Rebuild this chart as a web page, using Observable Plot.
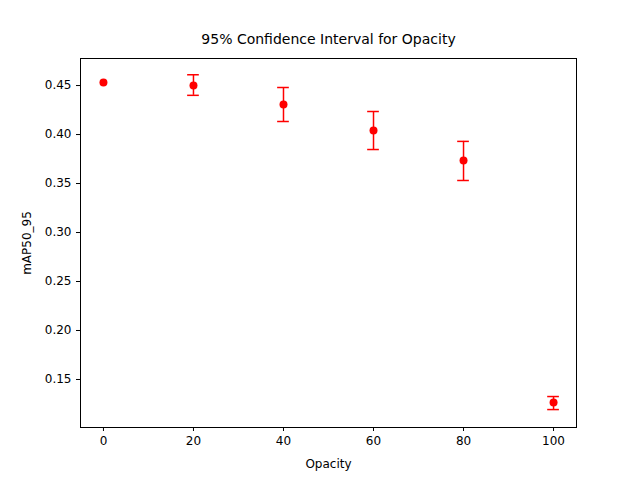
<!DOCTYPE html>
<html><head><meta charset="utf-8">
<script src="https://cdn.jsdelivr.net/npm/d3@7"></script>
<script src="https://cdn.jsdelivr.net/npm/@observablehq/plot@0.6"></script>
<style>body{margin:0;background:#fff} g[aria-label$="label"] text{font-size:12px}</style>
</head><body><div id="chart"></div>
<script>
const opacity = [0, 20, 40, 60, 80, 100];
const mean = [0.453, 0.450, 0.4306, 0.404, 0.3735, 0.1265];
const lower = [0.453, 0.440, 0.4133, 0.3847, 0.3531, 0.1193];
const upper = [0.453, 0.461, 0.448, 0.4235, 0.393, 0.1326];

const data = opacity.map((o, i) => ({o, m: mean[i], lo: lower[i], hi: upper[i]}));
const errs = data.filter(d => d.hi > d.lo);
const cap = 1.3;

const chart = Plot.plot({
  width: 640, height: 480,
  marginLeft: 80, marginRight: 64, marginTop: 58, marginBottom: 53,
  style: {fontFamily: "DejaVu Sans", fontSize: "10px", color: "#000"},
  x: {domain: [-5.1, 105.1], ticks: [0, 20, 40, 60, 80, 100], label: "Opacity", labelAnchor: "center", labelArrow: "none", labelOffset: 40, tickSize: 4},
  y: {domain: [0.101, 0.4776], ticks: [0.15, 0.2, 0.25, 0.3, 0.35, 0.4, 0.45], tickFormat: d3.format(".2f"), label: "mAP50_95", labelAnchor: "center", labelArrow: "none", labelOffset: 58, tickSize: 4},
  marks: [
    Plot.frame({stroke: "#000"}),
    Plot.ruleX(errs, {x: "o", y1: "lo", y2: "hi", stroke: "red", strokeWidth: 1.5}),
    Plot.ruleY(errs, {y: "lo", x1: d => d.o - cap, x2: d => d.o + cap, stroke: "red", strokeWidth: 1.5}),
    Plot.ruleY(errs, {y: "hi", x1: d => d.o - cap, x2: d => d.o + cap, stroke: "red", strokeWidth: 1.5}),
    Plot.dot(data, {x: "o", y: "m", fill: "red", r: 4}),
    Plot.text(["95% Confidence Interval for Opacity"], {frameAnchor: "top", dy: -15, fontSize: 14, lineAnchor: "bottom"})
  ]
});
d3.select('#chart').append(() => chart);
</script>
</body></html>
